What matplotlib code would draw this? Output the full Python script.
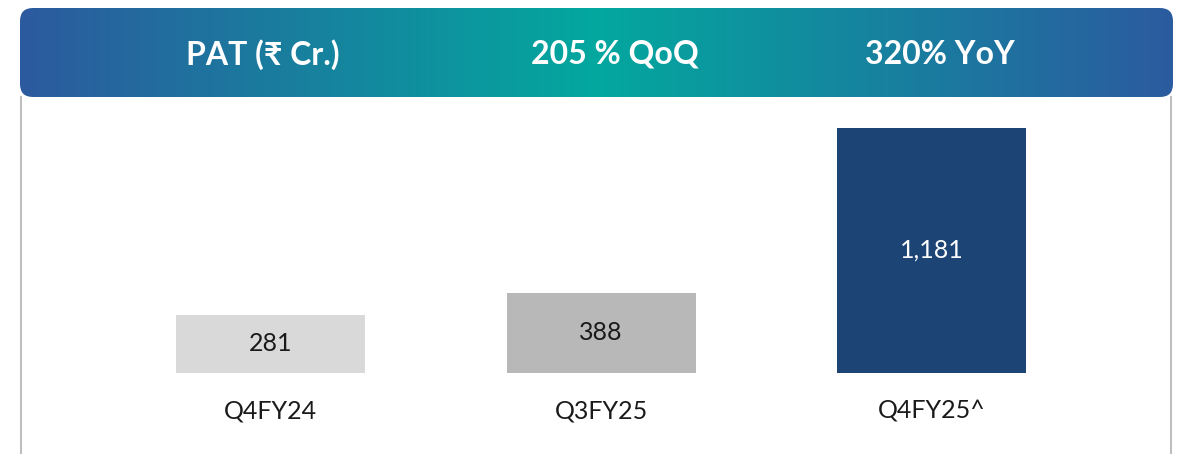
import numpy as np
import matplotlib.pyplot as plt
import matplotlib.colors as clr
from matplotlib.patches import FancyBboxPatch

plt.rcParams['font.family'] = ['Lato', 'DejaVu Sans']

# data
categories = ['Q4FY24', 'Q3FY25', 'Q4FY25^']
pat_values = [281, 388, 1181]
value_labels = ['281', '388', '1,181']
header_texts = ['PAT (\u20b9 Cr.)', '205 % QoQ', '320% YoY']

bar_cols = ['#d9d9d9', '#b8b8b8', '#1c4474']
txt_cols = ['#1a1a1a', '#1a1a1a', 'white']

W, H = 1184, 454
fig = plt.figure(figsize=(W/100, H/100), dpi=100)
fig.patch.set_facecolor('white')

def px_box(x0, y0, x1, y1):
    # pixel box (top-left origin) -> figure fraction rect
    return [x0/W, 1 - y1/H, (x1-x0)/W, (y1-y0)/H]


# bar panel
ax = fig.add_axes(px_box(21, 97, 1171, 454))
x = np.arange(len(categories))
ax.bar(x, pat_values, width=0.572, color=bar_cols)

ax.set_xlim(-0.755, -0.755 + 1150/330.5)
ax.set_ylim(-390.5, 1330.7)
ax.set_xticks([]); ax.set_yticks([])
for s in ['top', 'bottom']:
    ax.spines[s].set_visible(False)
for s in ['left', 'right']:
    ax.spines[s].set_color('#bfbfbf')
    ax.spines[s].set_linewidth(1.5)

for i, v in enumerate(pat_values):
    ax.text(x[i], v/2, value_labels[i], ha='center', va='center',
            fontsize=18, color=txt_cols[i])
    ax.annotate(categories[i], (x[i], 0), xytext=(0, -27),
                textcoords='offset points', ha='center', va='center',
                fontsize=18, color='#1a1a1a')


# header banner with horizontal gradient
hx = fig.add_axes(px_box(20, 8, 1173, 97))
hx.set_axis_off()
hx.set_xlim(0, 1); hx.set_ylim(0, 1)
grad = clr.LinearSegmentedColormap.from_list(
    'hdr', ['#2c5a9f', '#03a89e', '#2b5ba0'])
img = hx.imshow(np.linspace(0, 1, 512)[None, :], cmap=grad, aspect='auto',
                extent=(0, 1, 0, 1))
# rounded clip, in pixel units
rnd = FancyBboxPatch((20, H-97), 1153, 89,
                     boxstyle='round,pad=0,rounding_size=13',
                     transform=None, facecolor='none', edgecolor='none')
fig.patches.append(rnd)
img.set_clip_path(rnd)

for xc, t in zip([263, 615, 940], header_texts):
    hx.text((xc-20)/1153, 0.48, t, ha='center', va='center', fontsize=23,
            fontweight='bold', color='white')

fig.savefig('out.png', dpi=100, facecolor='white')
